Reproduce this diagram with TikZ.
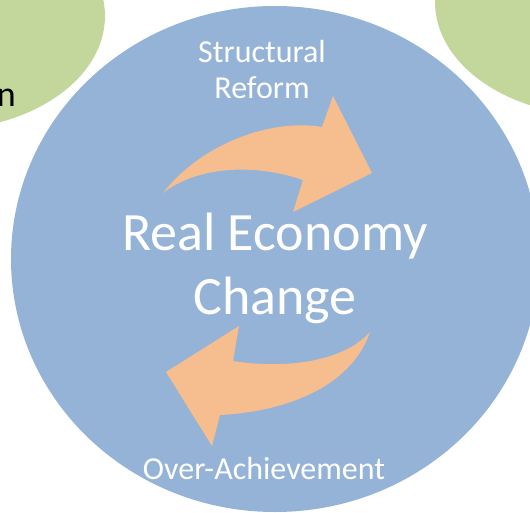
\documentclass[tikz,border=0pt]{standalone}
\usepackage{fontspec}
\setmainfont{Carlito}
\usepackage{tikz}
\usetikzlibrary{shapes,positioning}

\definecolor{hubblue}{HTML}{95B3D7}
\definecolor{sidegreen}{HTML}{C3D69B}
\definecolor{arrowtan}{RGB}{246,190,143}

\begin{document}
\begin{tikzpicture}[x=1pt,y=-1pt,
    hub/.style={ellipse, fill=hubblue, inner sep=0pt, minimum width=528pt, minimum height=506pt},
    side/.style={ellipse, fill=sidegreen, inner sep=0pt, minimum width=330pt, minimum height=228pt},
    label/.style={text=white, inner sep=0pt, align=center, font=\fontsize{32}{36}\selectfont},
    title/.style={text=white, inner sep=0pt, align=center, font=\fontsize{54}{64}\selectfont}]
  \useasboundingbox (0,0) rectangle (530,513);

  \node [side] (left) at (-60,16) {};
  \node [side] (right) at (600,2) {};
  \node [hub] (change) at (275,259) {};

  \node [anchor=base east, inner sep=0pt, font=\fontsize{36}{44}\selectfont] (cut) at (16,107) {n};

  % the two turning arrows
  \fill [arrowtan] (163,193) .. controls (200,145) and (270,118) .. (322,127)
    -- (333,96) -- (372,173) -- (293,212) -- (303,180)
    .. controls (250,162) and (195,168) .. (163,193) -- cycle;
  \fill [arrowtan] (370,332) .. controls (350,390) and (280,412) .. (220,415)
    -- (212,446) -- (166,372) -- (239,326) -- (233,361)
    .. controls (290,370) and (345,360) .. (370,332) -- cycle;

  \node [title] (real) at (275,268) {Real Economy\\Change};
  \node [label] (reform) at (262,70) {Structural\\Reform};
  \node [label, anchor=base] (over) at (264,479) {Over-Achievement};
\end{tikzpicture}
\end{document}
